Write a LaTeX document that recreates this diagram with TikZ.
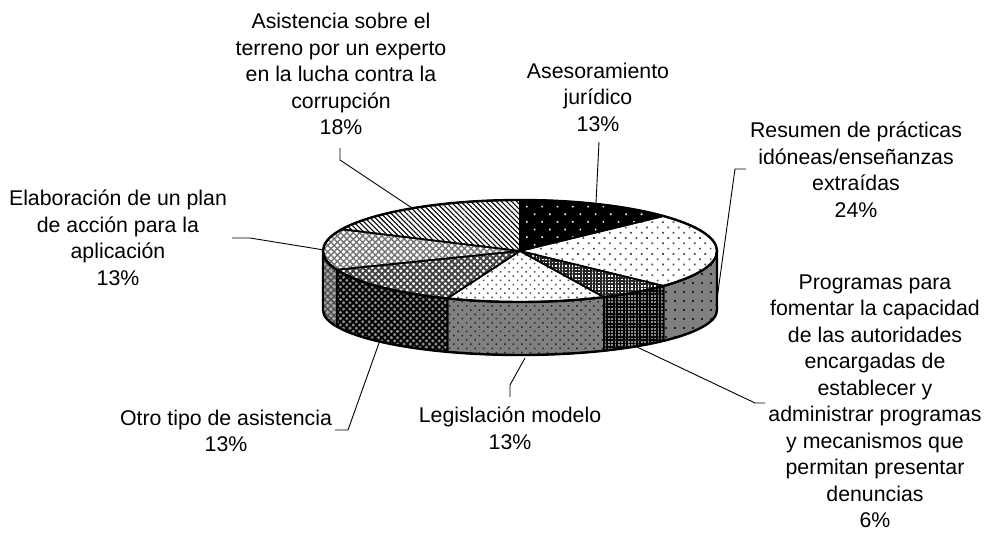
\documentclass[tikz,border=0pt]{standalone}
\usepackage{fontspec}
\setmainfont{Liberation Sans}
\usetikzlibrary{patterns.meta,calc}
\newcommand\pietop[3]{\path[#3] (T) -- ($(T)+(#1:197 and 51)$) arc[start angle=#1, end angle=#2, x radius=197, y radius=51] -- cycle;}
\newcommand\pieside[3]{\path[#3] ($(T)+(#1:197 and 51)$) arc[start angle=#1, end angle=#2, x radius=197, y radius=51] -- ($(B)+(#2:197 and 45)$) arc[start angle=#2, end angle=#1, x radius=197, y radius=45] -- cycle;}
\begin{document}
\begin{tikzpicture}[x=1pt,y=1pt,
  lbl/.style={align=center, inner sep=0pt, font=\fontsize{21.3}{26.5}\selectfont},
  lead/.style={line width=0.9pt},
  edge/.style={draw=black, line width=1.6pt, line join=round},
  outer/.style={draw=black, line width=2.4pt, line join=round},
  pA/.style={preaction={fill=black}, pattern={Dots[distance=10.8pt, angle=45, radius=1.1pt]}, pattern color=white},
  pR/.style={preaction={fill=white}, pattern={Dots[distance=7.5pt, angle=45, radius=1.2pt]}, pattern color=black!70},
  pRs/.style={preaction={fill=black!50}, pattern={Dots[distance=9pt, radius=1.1pt]}, pattern color=black},
  pP/.style={preaction={fill=white}, pattern={Hatch[angle=0, distance=3.3pt, line width=1.9pt]}, pattern color=black!85},
  pPs/.style={preaction={fill=black!45}, pattern={Hatch[angle=0, distance=3.3pt, line width=1.6pt]}, pattern color=black},
  pL/.style={preaction={fill=white}, pattern={Dots[distance=6pt, angle=45, radius=1.1pt]}, pattern color=black!70},
  pLs/.style={preaction={fill=black!50}, pattern={Dots[distance=6pt, angle=45, radius=1.1pt]}, pattern color=black!85},
  pO/.style={preaction={fill=white}, pattern={Hatch[angle=45, distance=4.5pt, line width=1.9pt]}, pattern color=black!75},
  pOs/.style={preaction={fill=black!45}, pattern={Hatch[angle=45, distance=4.5pt, line width=1.8pt]}, pattern color=black},
  pE/.style={preaction={fill=white}, pattern={Hatch[angle=45, distance=4.5pt, line width=1.4pt]}, pattern color=black!55},
  pEs/.style={preaction={fill=black!35}, pattern={Hatch[angle=45, distance=4.5pt, line width=1.3pt]}, pattern color=black!70},
  pS/.style={preaction={fill=white}, pattern={Lines[angle=-45, distance=3.6pt, line width=1.1pt]}, pattern color=black}]
\useasboundingbox (0,0) rectangle (988,535);
\coordinate (T) at (520,284);
\coordinate (B) at (520,225);
% sides
\pieside{-180}{-158.4}{pEs}
\pieside{-158.4}{-111.6}{pOs}
\pieside{-111.6}{-64.8}{pLs}
\pieside{-64.8}{-43.2}{pPs}
\pieside{-43.2}{0}{pRs}
\pieside{-180}{-158.4}{edge}
\pieside{-158.4}{-111.6}{edge}
\pieside{-111.6}{-64.8}{edge}
\pieside{-64.8}{-43.2}{edge}
\pieside{-43.2}{0}{edge}
% top slices
\pietop{43.2}{90}{pA}
\pietop{-43.2}{43.2}{pR}
\pietop{-64.8}{-43.2}{pP}
\pietop{-111.6}{-64.8}{pL}
\pietop{-158.4}{-111.6}{pO}
\pietop{-205.2}{-158.4}{pE}
\pietop{-270}{-205.2}{pS}
\pietop{43.2}{90}{edge}
\pietop{-43.2}{43.2}{edge}
\pietop{-64.8}{-43.2}{edge}
\pietop{-111.6}{-64.8}{edge}
\pietop{-158.4}{-111.6}{edge}
\pietop{-205.2}{-158.4}{edge}
\pietop{-270}{-205.2}{edge}
% outer outline
\draw[outer] (T) ellipse[x radius=197, y radius=51];
\draw[outer] ($(T)+(180:197 and 51)$) -- ($(B)+(180:197 and 45)$) arc[start angle=180, end angle=360, x radius=197, y radius=45] -- ($(T)+(0:197 and 51)$);
% labels
\node[lbl] (asis) at (341,461) {Asistencia sobre el\\terreno por un experto\\en la lucha contra la\\corrupción\\18\%};
\node[lbl] (ases) at (598,438) {Asesoramiento\\jurídico\\13\%};
\node[lbl] (resu) at (856,365.5) {Resumen de prácticas\\idóneas/enseñanzas\\extraídas\\24\%};
\node[lbl] (elab) at (118,297) {Elaboración de un plan\\de acción para la\\aplicación\\13\%};
\node[lbl] (otro) at (226,104) {Otro tipo de asistencia\\13\%};
\node[lbl] (legi) at (510,106.5) {Legislación modelo\\13\%};
\node[lbl] (prog) at (875,133.5) {Programas para\\fomentar la capacidad\\de las autoridades\\encargadas de\\establecer y\\administrar programas\\y mecanismos que\\permitan presentar\\denuncias\\6\%};
% leader lines
\coordinate (a1) at (340,387); \coordinate (a2) at (340,375); \coordinate (a3) at (412,327);
\draw[lead] (a1) -- (a2) -- (a3);
\coordinate (b1) at (599,393); \coordinate (b2) at (596,332);
\draw[lead] (b1) -- (b2);
\coordinate (c1) at (746,366); \coordinate (c2) at (735,366); \coordinate (c3) at (716,229);
\draw[lead] (c1) -- (c2) -- (c3);
\coordinate (d1) at (765,132); \coordinate (d2) at (755,132); \coordinate (d3) at (637,188);
\draw[lead] (d1) -- (d2) -- (d3);
\coordinate (e1) at (510,138); \coordinate (e2) at (510,150); \coordinate (e3) at (525,177);
\draw[lead] (e1) -- (e2) -- (e3);
\coordinate (f1) at (335,105); \coordinate (f2) at (348,105); \coordinate (f3) at (379,192);
\draw[lead] (f1) -- (f2) -- (f3);
\coordinate (g1) at (232,297); \coordinate (g2) at (250,297); \coordinate (g3) at (324,285);
\draw[lead] (g1) -- (g2) -- (g3);
\end{tikzpicture}
\end{document}
